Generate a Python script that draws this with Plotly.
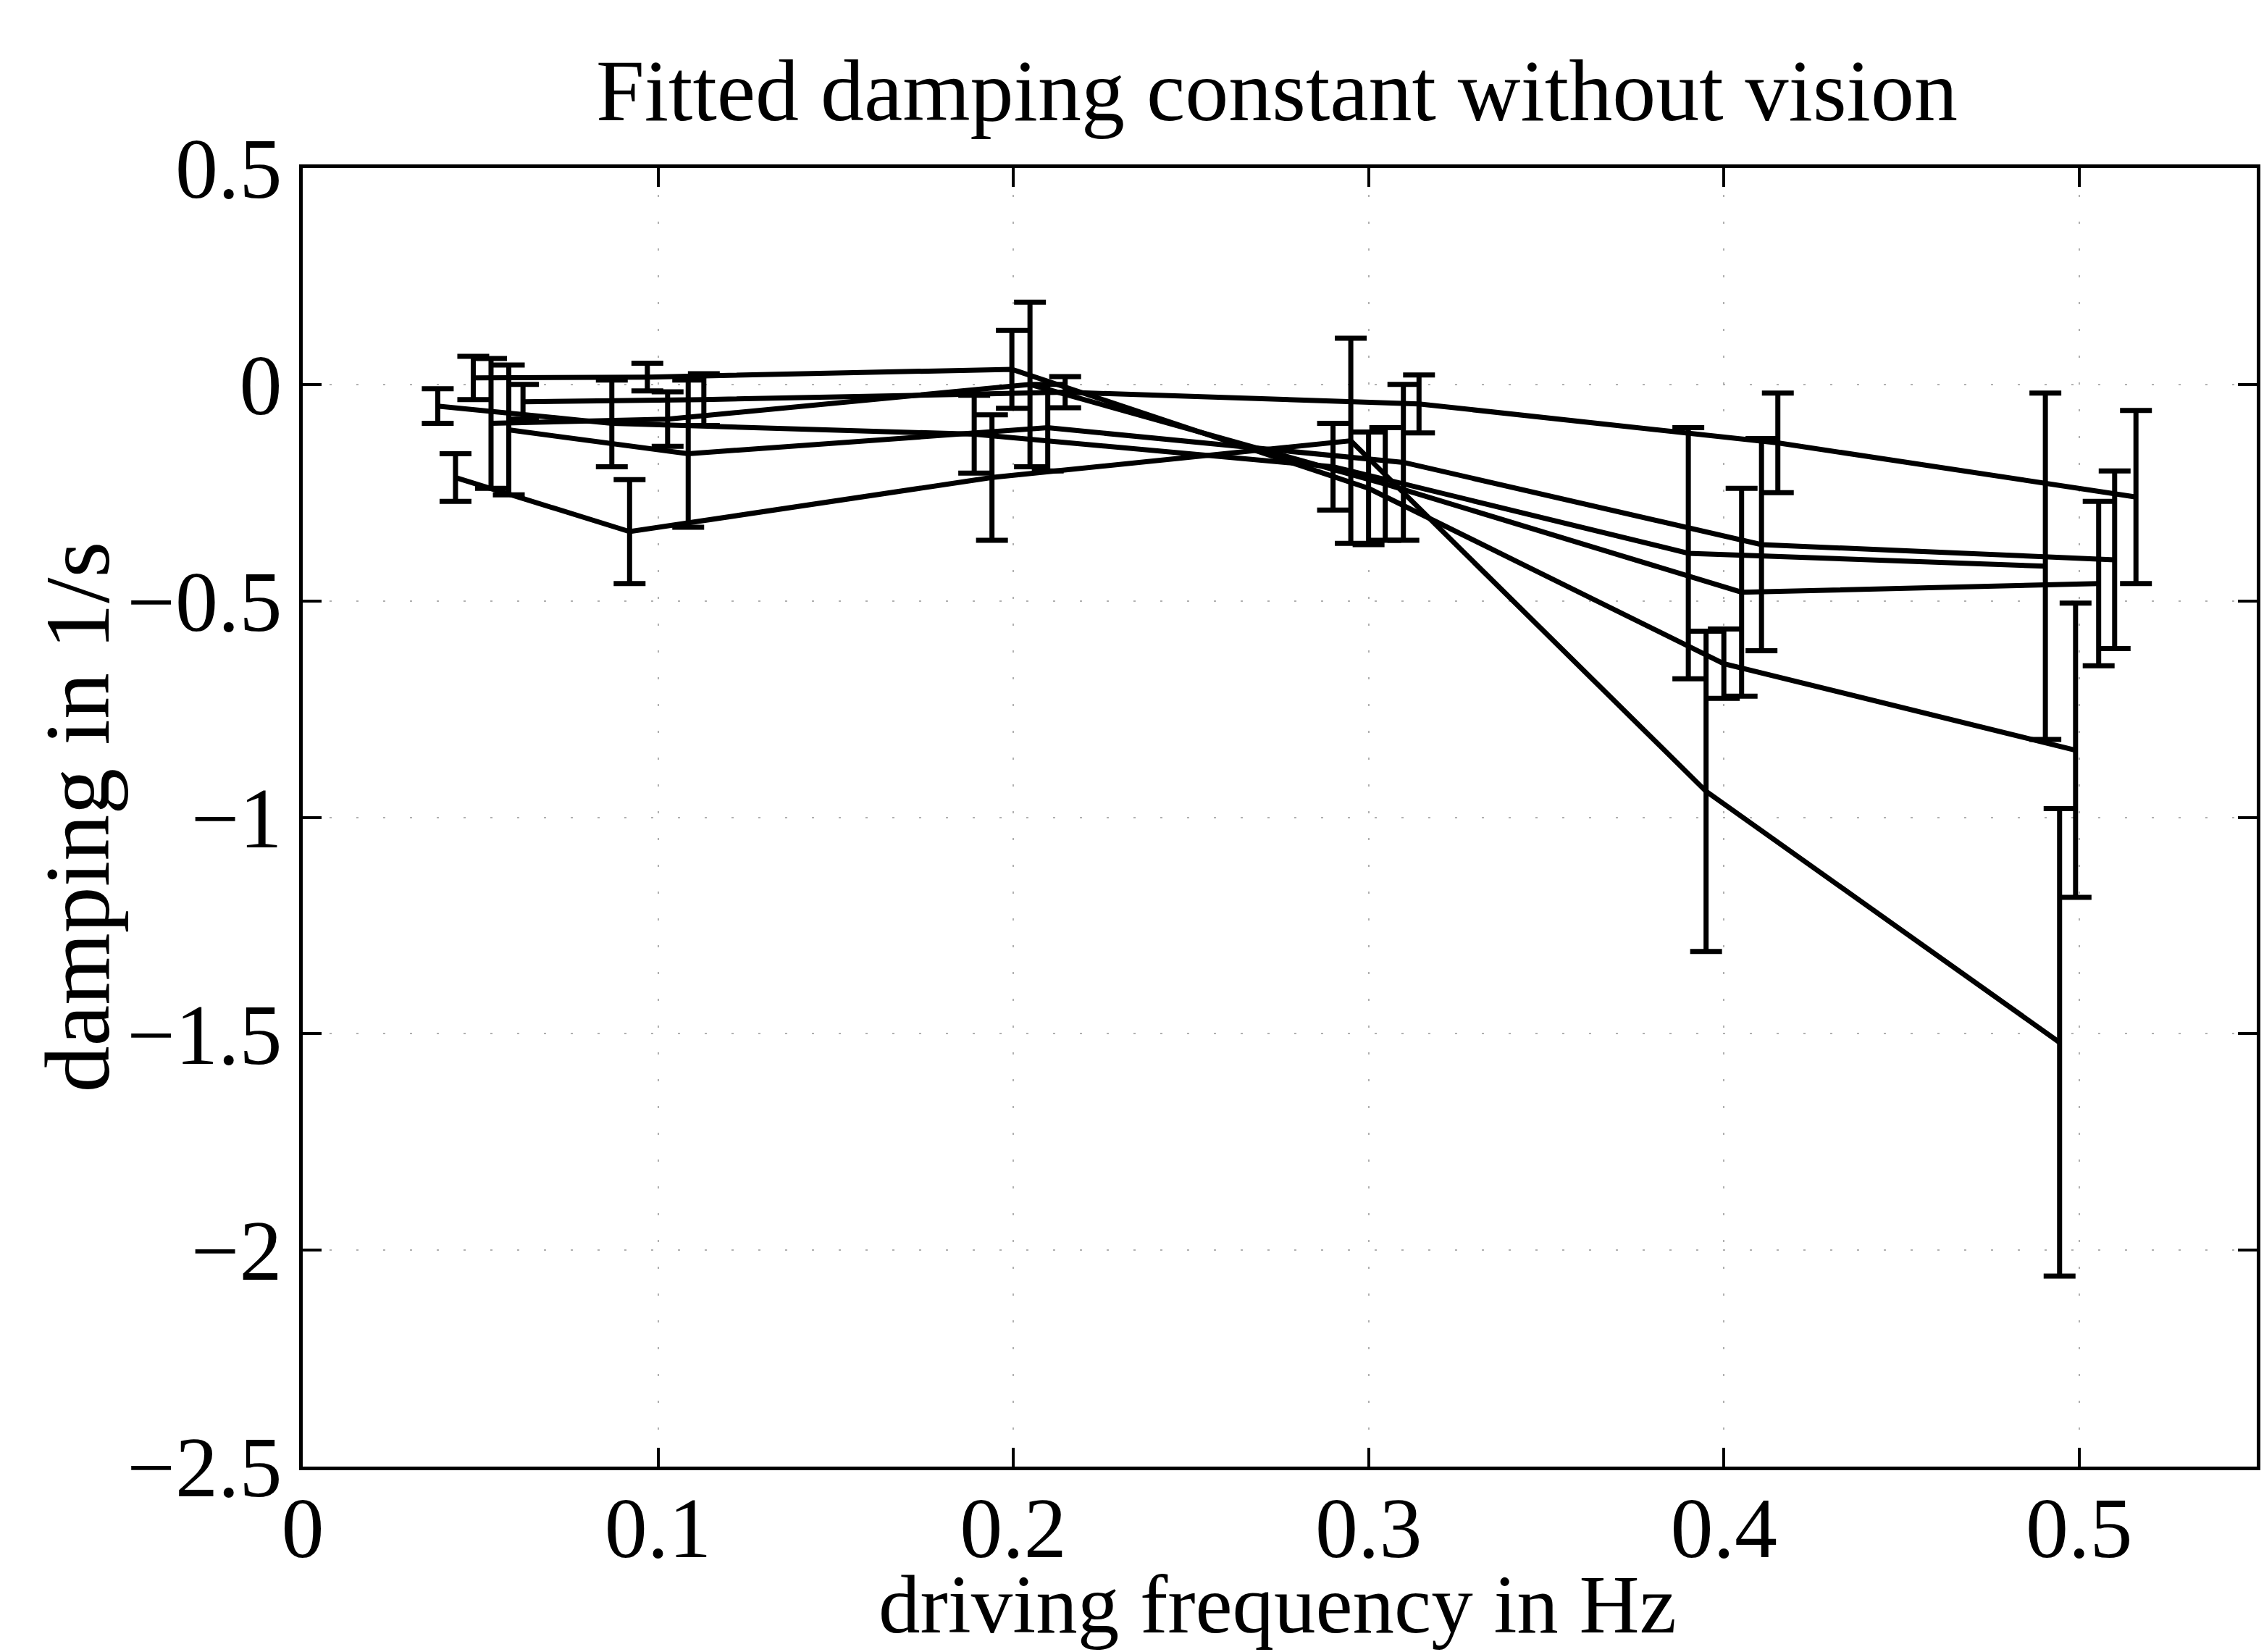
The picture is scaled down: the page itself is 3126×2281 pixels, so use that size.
import plotly.graph_objects as go

# Fitted damping constant (1/s) per driving frequency (Hz), six runs, with error bars
freq_1 = [0.038, 0.087, 0.189, 0.290, 0.390, 0.4905]
damp_1 = [-0.05, -0.09, -0.115, -0.19, -0.39, -0.42]
err_1 = [0.04, 0.10, 0.09, 0.10, 0.29, 0.40]

freq_2 = [0.043, 0.092, 0.194, 0.295, 0.395, 0.4945]
damp_2 = [-0.215, -0.34, -0.215, -0.13, -0.94, -1.52]
err_2 = [0.055, 0.12, 0.145, 0.237, 0.37, 0.54]

freq_3 = [0.048, 0.097, 0.1996, 0.300, 0.400, 0.499]
damp_3 = [0.015, 0.017, 0.035, -0.24, -0.645, -0.845]
err_3 = [0.05, 0.032, 0.09, 0.13, 0.08, 0.34]

freq_4 = [0.053, 0.1027, 0.2047, 0.3047, 0.405, 0.5055]
damp_4 = [-0.09, -0.08, 0.0, -0.23, -0.48, -0.46]
err_4 = [0.15, 0.063, 0.19, 0.13, 0.24, 0.19]

freq_5 = [0.058, 0.1085, 0.2097, 0.3098, 0.4106, 0.510]
damp_5 = [-0.105, -0.16, -0.10, -0.18, -0.37, -0.405]
err_5 = [0.15, 0.17, 0.10, 0.18, 0.245, 0.205]

freq_6 = [0.062, 0.1129, 0.2146, 0.3142, 0.4152, 0.516]
damp_6 = [-0.04, -0.035, -0.018, -0.045, -0.135, -0.26]
err_6 = [0.04, 0.06, 0.036, 0.067, 0.115, 0.20]

x_tickvals = [0, 0.1, 0.2, 0.3, 0.4, 0.5]
x_ticktext = ["0", "0.1", "0.2", "0.3", "0.4", "0.5"]
y_tickvals = [0.5, 0, -0.5, -1, -1.5, -2, -2.5]
y_ticktext = ["0.5", "0", "\u22120.5", "\u22121", "\u22121.5", "\u22122", "\u22122.5"]

runs = [
    (freq_1, damp_1, err_1),
    (freq_2, damp_2, err_2),
    (freq_3, damp_3, err_3),
    (freq_4, damp_4, err_4),
    (freq_5, damp_5, err_5),
    (freq_6, damp_6, err_6),
]

FONT = "Liberation Serif, Times New Roman, serif"
W, H = 3126, 2281
L, R, T, B = 418, 5, 232, 256
PW, PH = W - L - R, H - T - B

fig = go.Figure()
for i, (fx, dy, de) in enumerate(runs):
    fig.add_trace(go.Scatter(
        x=fx, y=dy, mode="lines", name=f"run {i + 1}",
        line=dict(color="black", width=7),
        error_y=dict(type="data", array=de, visible=True,
                     color="black", thickness=7, width=22),
        showlegend=False,
    ))

axis_common = dict(
    showline=True, linecolor="black", linewidth=5, mirror="ticks",
    ticks="inside", ticklen=26, tickwidth=4, tickcolor="black",
    showgrid=True, gridcolor="#b0b0b0", gridwidth=2, griddash="3px,34px",
    zeroline=False,
    tickfont=dict(family=FONT, size=118, color="black"),
)

fig.update_xaxes(range=[0, 0.55], tickmode="array",
                 tickvals=x_tickvals, ticktext=x_ticktext,
                 ticklabelstandoff=-22, **axis_common)
fig.update_yaxes(range=[-2.5, 0.5], tickmode="array",
                 tickvals=y_tickvals, ticktext=y_ticktext,
                 ticklabelstandoff=0, **axis_common)


def px_x(X):
    return (X - L) / PW


def px_y(Y):
    return (H - B - Y) / PH


fig.update_layout(
    width=W, height=H,
    margin=dict(l=L, r=R, t=T, b=B),
    paper_bgcolor="white", plot_bgcolor="white",
    font=dict(family=FONT, color="black"),
    annotations=[
        dict(text="Fitted damping constant without vision",
             xref="paper", yref="paper", x=px_x(1765), y=px_y(126),
             xanchor="center", yanchor="middle", showarrow=False,
             font=dict(family=FONT, size=120, color="black")),
        dict(text="driving frequency in Hz",
             xref="paper", yref="paper", x=px_x(1766), y=px_y(H),
             xanchor="center", yanchor="bottom", showarrow=False,
             font=dict(family=FONT, size=115, color="black")),
        dict(text="damping in 1/s", textangle=-90,
             xref="paper", yref="paper", x=px_x(106), y=px_y(1128),
             xanchor="center", yanchor="middle", showarrow=False,
             font=dict(family=FONT, size=128, color="black")),
    ],
)

fig.write_html("out.html")
